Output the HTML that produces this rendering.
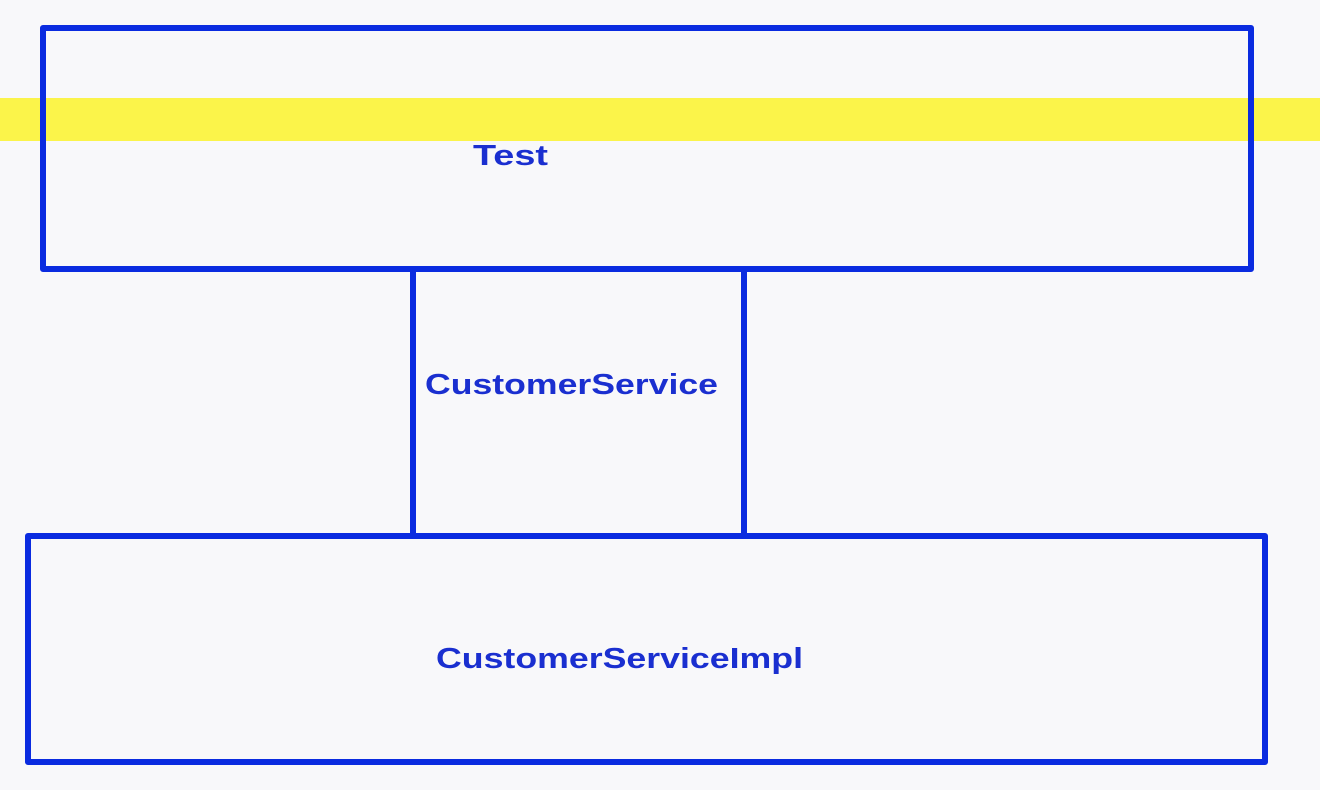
<!DOCTYPE html>
<html><head><meta charset="utf-8"><style>
html,body{margin:0;padding:0;background:#f8f8fa;}
svg{display:block;}
text{font-family:"Liberation Sans",sans-serif;font-weight:bold;fill:#1a2fd0;font-size:29px;}
</style></head><body>
<svg width="1320" height="790" viewBox="0 0 1320 790">
<rect width="1320" height="790" fill="#f8f8fa"/>
<rect x="0" y="98" width="1320" height="43" fill="#fbf44a"/>
<g fill="none" stroke="#0a2be0" stroke-width="6" stroke-linejoin="round">
<rect x="43" y="28" width="1208" height="241"/>
<line x1="413" y1="269" x2="413" y2="536"/>
<line x1="744" y1="269" x2="744" y2="536"/>
<rect x="28" y="536" width="1237" height="226"/>
</g>
<text x="473" y="165" textLength="75" lengthAdjust="spacingAndGlyphs">Test</text>
<text x="425" y="394" textLength="293" lengthAdjust="spacingAndGlyphs">CustomerService</text>
<text x="436" y="668" textLength="367" lengthAdjust="spacingAndGlyphs">CustomerServiceImpl</text>
</svg>
</body></html>
